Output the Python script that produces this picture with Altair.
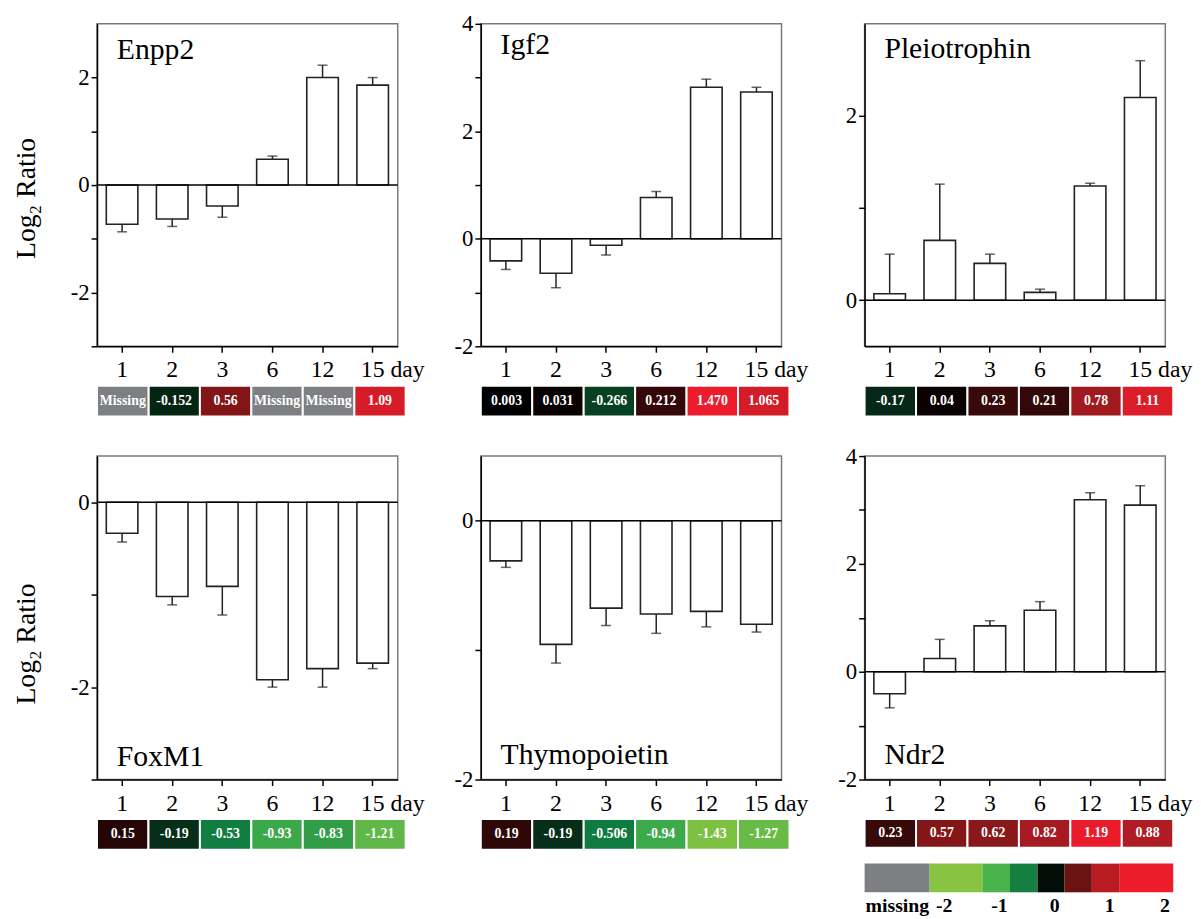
import altair as alt
import pandas as pd

# ---------------- data ----------------
days = ["1", "2", "3", "6", "12", "15"]

gene_names = ["Enpp2", "Igf2", "Pleiotrophin", "FoxM1", "Thymopoietin", "Ndr2"]

# bar heights (log2 ratio) and error-bar ends
enpp2_mean = [-0.73, -0.63, -0.39, 0.48, 2.00, 1.86]
enpp2_err = [-0.87, -0.77, -0.60, 0.54, 2.23, 2.00]
igf2_mean = [-0.41, -0.64, -0.12, 0.77, 2.82, 2.73]
igf2_err = [-0.57, -0.91, -0.30, 0.88, 2.97, 2.82]
ptn_mean = [0.07, 0.65, 0.40, 0.085, 1.24, 2.20]
ptn_err = [0.50, 1.26, 0.50, 0.12, 1.27, 2.60]
foxm1_mean = [-0.335, -1.02, -0.91, -1.92, -1.80, -1.74]
foxm1_err = [-0.43, -1.11, -1.22, -2.00, -2.00, -1.80]
tmpo_mean = [-0.31, -0.955, -0.675, -0.72, -0.70, -0.80]
tmpo_err = [-0.36, -1.10, -0.81, -0.87, -0.82, -0.86]
ndr2_mean = [-0.41, 0.244, 0.85, 1.14, 3.19, 3.09]
ndr2_err = [-0.67, 0.60, 0.945, 1.30, 3.32, 3.45]

# microarray values shown in the colour strips
enpp2_array = ["Missing", "-0.152", "0.56", "Missing", "Missing", "1.09"]
igf2_array = ["0.003", "0.031", "-0.266", "0.212", "1.470", "1.065"]
ptn_array = ["-0.17", "0.04", "0.23", "0.21", "0.78", "1.11"]
foxm1_array = ["0.15", "-0.19", "-0.53", "-0.93", "-0.83", "-1.21"]
tmpo_array = ["0.19", "-0.19", "-0.506", "-0.94", "-1.43", "-1.27"]
ndr2_array = ["0.23", "0.57", "0.62", "0.82", "1.19", "0.88"]

# y-axis domains and tick values of each panel
y_domains = [[-3, 3], [-2, 4], [-0.5, 3], [-3, 0.5], [-2, 0.5], [-2, 4]]
y_ticks = [[-3, -2, -1, 0, 1, 2], [-2, -1, 0, 1, 2, 3, 4], [0, 1, 2],
           [-3, -2, -1, 0], [-2, -1, 0], [-2, -1, 0, 1, 2, 3, 4]]

# colour key segments
key_lo = [-3.435, -2.26, -1.30, -0.80, -0.30, 0.19, 0.685, 1.18]
key_hi = [-2.26, -1.30, -0.80, -0.30, 0.19, 0.685, 1.18, 2.16]
key_missing = [True, False, False, False, False, False, False, False]
key_label_values = [-2.85, -2, -1, 0, 1, 2]

# ---------------- style ----------------
FONT = "Liberation Serif"
MISSING = "#7d7f82"
INK = "#222222"
heat_scale = alt.Scale(
    domain=[-1.5, -1.0, -0.5, 0, 0.5, 0.85, 1.2],
    range=["#86c441", "#42b04b", "#0f7a40", "#000000", "#7a1414", "#aa1c22", "#ec1c2c"],
    clamp=True,
    interpolate="rgb",
)

PW = 304          # plot width
HW = 312          # strip width
H_TOP = 326
H_BOT = 327


def bar_panel(idx, mean, err, height, label_dy, show_title, title_shift):
    df = pd.DataFrame({"day": days, "mean": mean, "err": err})
    x_axis = alt.Axis(
        title=None, labelAngle=0, labelFont=FONT, labelFontSize=24, labelColor="black",
        labelExpr="datum.value == '15' ? '15 day' : datum.label",
        labelAlign={"condition": {"test": "datum.value == '15'", "value": "left"}, "value": "center"},
        labelOffset={"condition": {"test": "datum.value == '15'", "value": -12}, "value": 0},
        tickSize=6, tickColor="black", tickWidth=1.5, labelPadding=6,
        domainColor="black", domainWidth=1.5, grid=False,
    )
    x = alt.X("day:N", sort=days,
              scale=alt.Scale(domain=days, paddingInner=0.37, paddingOuter=0.185),
              axis=x_axis)
    y_axis = alt.Axis(
        title="Log\u2082 Ratio" if show_title else "",
        titleFont=FONT, titleFontSize=28, titleFontWeight="normal", titleColor="black",
        titlePadding=30, titleY=height / 2 + title_shift,
        values=y_ticks[idx],
        labelExpr="datum.value % 2 == 0 ? '' + datum.value : ''",
        labelFont=FONT, labelFontSize=23, labelColor="black", labelPadding=2,
        tickSize=6, tickColor="black", tickWidth=1.5,
        domainColor="black", domainWidth=1.5, grid=False,
    )
    ys = alt.Scale(domain=y_domains[idx], nice=False, zero=False)

    def Y(field):
        return alt.Y(field, type="quantitative", scale=ys, axis=y_axis)

    base = alt.Chart(df)
    bars = base.mark_bar(fill="white", stroke=INK, strokeWidth=1.6).encode(
        x=x, y=Y("mean"), y2=alt.datum(0))
    errs = base.mark_rule(color=INK, strokeWidth=1.5).encode(
        x=x, y=Y("mean"), y2="err:Q")
    caps = base.mark_tick(color=INK, thickness=1.5, size=10).encode(
        x=x, y=Y("err"))
    zero = alt.Chart(pd.DataFrame({"zero": [0]})).mark_rule(
        color="black", strokeWidth=1.5).encode(y=Y("zero"))

    title = alt.TitleParams(
        text=gene_names[idx], anchor="start", frame="group", orient="top", offset=0,
        dx=20, dy=label_dy, baseline="alphabetic", font=FONT, fontSize=30,
        fontWeight="normal", color="black",
    )
    return alt.layer(bars, errs, caps, zero).properties(
        width=PW, height=height, title=title,
        view=alt.ViewBackground(stroke="#7a7a7a", strokeWidth=1.5),
    )


def heat_layers(labels, y=None):
    vals = [None if s == "Missing" else float(s) for s in labels]
    df = pd.DataFrame({"day": days, "val": vals, "label": labels, "row": "strip"})
    x = alt.X("day:N", sort=days,
              scale=alt.Scale(domain=days, paddingInner=0, paddingOuter=0), axis=None)
    enc = {"x": x}
    if y is not None:
        enc["y"] = y
    base = alt.Chart(df)
    valid = base.transform_filter("isValid(datum.val)").mark_rect(
        stroke="white", strokeWidth=2).encode(
        color=alt.Color("val:Q", scale=heat_scale, legend=None), **enc)
    missing = base.transform_filter("!isValid(datum.val)").mark_rect(
        stroke="white", strokeWidth=2, color=MISSING).encode(**enc)
    text = base.mark_text(
        color="white", font=FONT, fontWeight="bold", fontSize=14).encode(
        text="label:N", **enc)
    return [valid, missing, text]


def heat_panel(labels):
    return alt.layer(*heat_layers(labels)).properties(
        width=HW, height=31, view=alt.ViewBackground(strokeWidth=0))


def heat_key_panel(labels):
    y = alt.Y("row:N", scale=alt.Scale(domain=["strip", "key"], paddingInner=0.3556,
                                       paddingOuter=0), axis=None)
    df = pd.DataFrame({"lo": key_lo, "hi": key_hi, "missing": key_missing, "row": "key"})
    x_axis = alt.Axis(
        title=None, values=key_label_values, orient="bottom",
        labelExpr="datum.value < -2.5 ? 'missing' : '' + datum.value",
        labelFont=FONT, labelFontWeight="bold", labelFontSize=20, labelColor="black",
        ticks=False, domain=False, grid=False, labelPadding=3,
    )
    kx = alt.X("lo:Q", scale=alt.Scale(domain=[key_lo[0], key_hi[-1]], nice=False, zero=False),
               axis=x_axis)
    kbase = alt.Chart(df).transform_calculate(mid="(datum.lo + datum.hi) / 2")
    key_valid = kbase.transform_filter("!datum.missing").mark_rect().encode(
        x=kx, x2="hi:Q", y=y,
        color=alt.Color("mid:Q", scale=heat_scale, legend=None))
    key_missing_l = kbase.transform_filter("datum.missing").mark_rect(color=MISSING).encode(
        x=kx, x2="hi:Q", y=y)
    heat = alt.layer(*heat_layers(labels, y=y))
    key = alt.layer(key_valid, key_missing_l)
    return alt.layer(heat, key).resolve_scale(x="independent").properties(
        width=HW, height=74, view=alt.ViewBackground(strokeWidth=0))


p1 = bar_panel(0, enpp2_mean, enpp2_err, H_TOP, 66, True, 13)
p2 = bar_panel(1, igf2_mean, igf2_err, H_TOP, 72, False, 0)
p3 = bar_panel(2, ptn_mean, ptn_err, H_TOP, 65, False, 0)
p4 = bar_panel(3, foxm1_mean, foxm1_err, H_BOT, 343, True, 26)
p5 = bar_panel(4, tmpo_mean, tmpo_err, H_BOT, 341, False, 0)
p6 = bar_panel(5, ndr2_mean, ndr2_err, H_BOT, 352.5, False, 0)

h1 = heat_panel(enpp2_array)
h2 = heat_panel(igf2_array)
h3 = heat_panel(ptn_array)
h4 = heat_panel(foxm1_array)
h5 = heat_panel(tmpo_array)
h6 = heat_key_panel(ndr2_array)

chart = alt.concat(
    p1, p2, p3, h1, h2, h3, p4, p5, p6, h4, h5, h6,
    columns=3,
    spacing=alt.RowColnumber(row=40, column=76),
    bounds="flush",
    align=alt.RowColLayoutAlign(row="each", column="all"),
).properties(
    padding={"left": 4, "top": -1, "right": 0, "bottom": 0},
    background="white",
).configure_view(stroke="transparent").configure(font=FONT)

chart.save("out.html", embed_options={"renderer": "svg", "actions": False})
